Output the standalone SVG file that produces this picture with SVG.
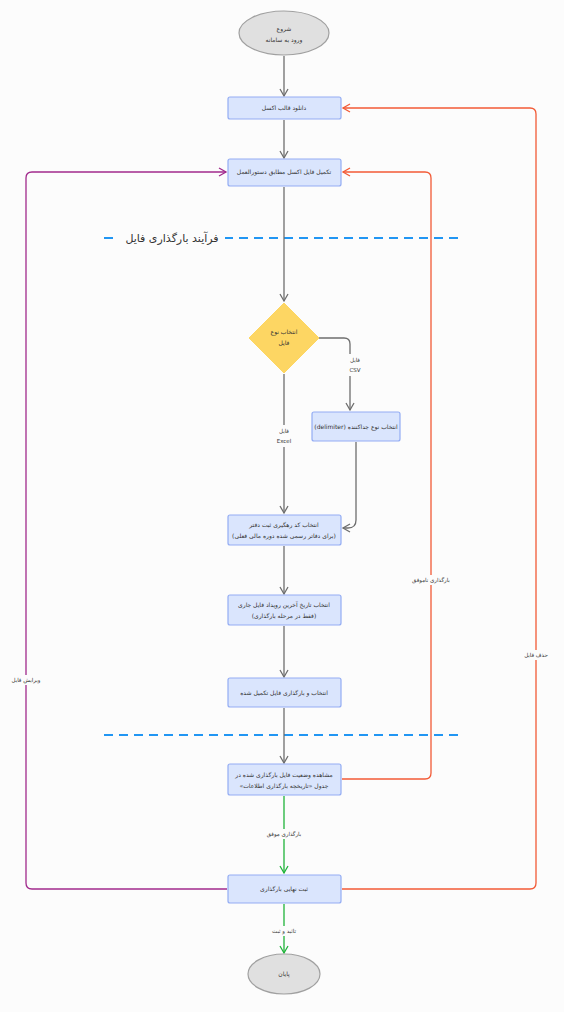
<svg xmlns="http://www.w3.org/2000/svg" width="564" height="1012" viewBox="0 0 564 1012">
<style>
.bg{fill:#fcfcfc}
.box{fill:#dae5fd;stroke:#93acf3;stroke-width:1.2}
.ell{fill:#e0e0e0;stroke:#a0a0a0;stroke-width:1.2}
.dia{fill:#fdd663;stroke:#fdd663;stroke-width:1}
.t{font-family:"DejaVu Sans",sans-serif;font-size:6px;fill:#333;text-anchor:middle;direction:rtl}
.lbl{font-family:"DejaVu Sans",sans-serif;font-size:5.5px;fill:#333;text-anchor:middle;direction:rtl}
.sec{font-family:"DejaVu Sans",sans-serif;font-size:11px;fill:#333;text-anchor:middle;direction:rtl}
.g{fill:none;stroke:#6e6e6e;stroke-width:1.3}
.o{fill:none;stroke:#f25a36;stroke-width:1.3}
.p{fill:none;stroke:#a12a8c;stroke-width:1.3}
.gr{fill:none;stroke:#1fb33a;stroke-width:1.3}
.dash{fill:none;stroke:#2196f3;stroke-width:2;stroke-dasharray:9,6}
.lb{fill:#fcfcfc}
</style>
<defs>
<marker id="ag" markerWidth="10" markerHeight="10" refX="8" refY="5" orient="auto" markerUnits="userSpaceOnUse"><path d="M1,1 L8,5 L1,9" fill="none" stroke="#6e6e6e" stroke-width="1.3"/></marker>
<marker id="ao" markerWidth="10" markerHeight="10" refX="8" refY="5" orient="auto" markerUnits="userSpaceOnUse"><path d="M1,1 L8,5 L1,9" fill="none" stroke="#f25a36" stroke-width="1.3"/></marker>
<marker id="ap" markerWidth="10" markerHeight="10" refX="8" refY="5" orient="auto" markerUnits="userSpaceOnUse"><path d="M1,1 L8,5 L1,9" fill="none" stroke="#a12a8c" stroke-width="1.3"/></marker>
<marker id="agr" markerWidth="10" markerHeight="10" refX="8" refY="5" orient="auto" markerUnits="userSpaceOnUse"><path d="M1,1 L8,5 L1,9" fill="none" stroke="#1fb33a" stroke-width="1.3"/></marker>
</defs>
<rect class="bg" x="0" y="0" width="564" height="1012"/>

<g id="sections">
<line class="dash" x1="104" y1="238" x2="458" y2="238"/>
<rect class="lb" x="116" y="229" width="109" height="18"/>
<text class="sec" x="172" y="242">فرآیند بارگذاری فایل</text>
<line class="dash" x1="104" y1="735" x2="458" y2="735"/>
</g>

<g id="connectors">
<line class="g" x1="284" y1="56" x2="284" y2="96" marker-end="url(#ag)"/>
<line class="g" x1="284" y1="120" x2="284" y2="158" marker-end="url(#ag)"/>
<line class="g" x1="284" y1="187" x2="284" y2="301" marker-end="url(#ag)"/>
<path class="g" d="M319,338 H344 Q350,338 350,344 V410" marker-end="url(#ag)"/>
<rect class="lb" x="344" y="354" width="20" height="22"/>
<text class="lbl" x="355" y="362">فایل</text>
<text class="lbl" x="355" y="372" style="direction:ltr">CSV</text>
<line class="g" x1="284" y1="374" x2="284" y2="513" marker-end="url(#ag)"/>
<rect class="lb" x="274" y="425" width="20" height="22"/>
<text class="lbl" x="284" y="433">فایل</text>
<text class="lbl" x="284" y="443" style="direction:ltr">Excel</text>
<path class="g" d="M356,442 V520 Q356,528 348,528 H343" marker-end="url(#ag)"/>
<line class="g" x1="284" y1="546" x2="284" y2="594" marker-end="url(#ag)"/>
<line class="g" x1="284" y1="626" x2="284" y2="677" marker-end="url(#ag)"/>
<line class="g" x1="284" y1="708" x2="284" y2="763" marker-end="url(#ag)"/>
<path class="o" d="M342,779 H425 Q431,779 431,773 V178 Q431,172 425,172 H343" marker-end="url(#ao)"/>
<rect class="lb" x="408" y="575" width="46" height="10"/>
<text class="lbl" x="431" y="582">بارگذاری ناموفق</text>
<path class="o" d="M342,889 H530 Q536,889 536,883 V114 Q536,108 530,108 H343" marker-end="url(#ao)"/>
<rect class="lb" x="520" y="650" width="32" height="10"/>
<text class="lbl" x="536" y="657">حذف فایل</text>
<path class="p" d="M227,889 H32 Q26,889 26,883 V178 Q26,172 32,172 H226" marker-end="url(#ap)"/>
<rect class="lb" x="8" y="675" width="36" height="10"/>
<text class="lbl" x="26" y="682">ویرایش فایل</text>
<line class="gr" x1="284" y1="796" x2="284" y2="873" marker-end="url(#agr)"/>
<rect class="lb" x="266" y="829" width="36" height="10"/>
<text class="lbl" x="284" y="836">بارگذاری موفق</text>
<line class="gr" x1="284" y1="904" x2="284" y2="953" marker-end="url(#agr)"/>
<rect class="lb" x="270" y="926" width="28" height="10"/>
<text class="lbl" x="284" y="933">تائید و ثبت</text>
</g>

<g id="start">
<ellipse class="ell" cx="284" cy="33" rx="45" ry="22"/>
<text class="t" x="284" y="31">شروع</text>
<text class="t" x="284" y="42">ورود به سامانه</text>
</g>
<g id="download">
<rect class="box" x="228" y="97" width="113" height="22" rx="2"/>
<text class="t" x="284" y="110">دانلود قالب اکسل</text>
</g>
<g id="fill">
<rect class="box" x="228" y="159" width="113" height="27" rx="2"/>
<text class="t" x="284" y="174">تکمیل فایل اکسل مطابق دستورالعمل</text>
</g>
<g id="decision">
<polygon class="dia" points="284,303 319,338 284,373 249,338"/>
<text class="t" x="284" y="334">انتخاب نوع</text>
<text class="t" x="284" y="345">فایل</text>
</g>
<g id="delimiter">
<rect class="box" x="312" y="412" width="88" height="29" rx="2"/>
<text class="t" x="356" y="429">انتخاب نوع جداکننده (delimiter)</text>
</g>
<g id="tracking">
<rect class="box" x="228" y="515" width="113" height="30" rx="2"/>
<text class="t" x="284" y="527">انتخاب کد رهگیری ثبت دفتر</text>
<text class="t" x="284" y="538">(برای دفاتر رسمی شده دوره مالی فعلی)</text>
</g>
<g id="date">
<rect class="box" x="228" y="595" width="113" height="30" rx="2"/>
<text class="t" x="284" y="607">انتخاب تاریخ آخرین رویداد فایل جاری</text>
<text class="t" x="284" y="618">(فقط در مرحله بارگذاری)</text>
</g>
<g id="upload">
<rect class="box" x="228" y="678" width="113" height="29" rx="2"/>
<text class="t" x="284" y="695">انتخاب و بارگذاری فایل تکمیل شده</text>
</g>
<g id="status">
<rect class="box" x="228" y="764" width="113" height="31" rx="2"/>
<text class="t" x="284" y="777">مشاهده وضعیت فایل بارگذاری شده در</text>
<text class="t" x="284" y="788">جدول «تاریخچه بارگذاری اطلاعات»</text>
</g>
<g id="final">
<rect class="box" x="228" y="875" width="113" height="28" rx="2"/>
<text class="t" x="284" y="891">ثبت نهایی بارگذاری</text>
</g>
<g id="end">
<ellipse class="ell" cx="284" cy="974" rx="36" ry="20"/>
<text class="t" x="284" y="976">پایان</text>
</g>
</svg>
